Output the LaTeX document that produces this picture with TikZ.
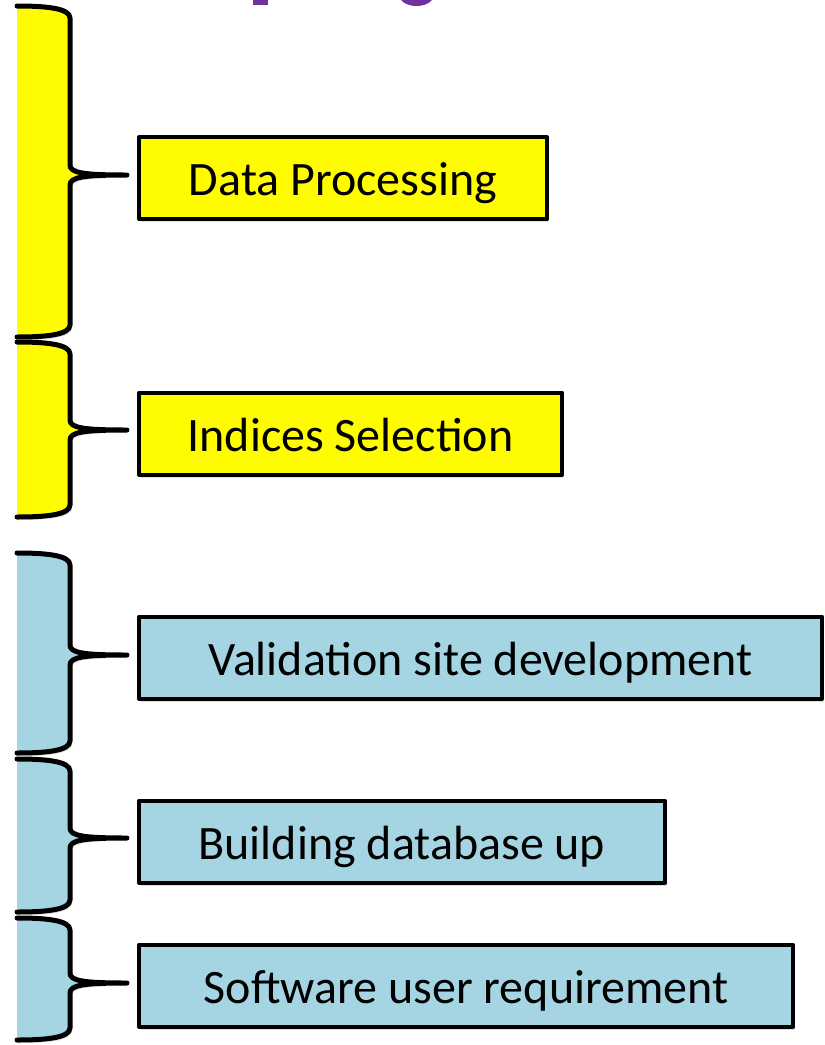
\documentclass[tikz,border=0pt]{standalone}
\usepackage{fontspec}
\setmainfont{Carlito}
\usepackage{tikz}
\usetikzlibrary{shadows}
\usepackage{xcolor}
\definecolor{taskyellow}{HTML}{FFFB00}
\definecolor{taskblue}{HTML}{A5D5E2}
\definecolor{titlepurple}{HTML}{7030A0}

% group brace: #1 top, #2 tip, #3 bottom, #4 fill
\newcommand{\grpbrace}[4]{%
\fill[#4,shade drop] (17,#1) .. controls (45,#1) and (70,#1+2) .. (70,#1+12) -- (70,#2-10)
  .. controls (70,#2-2) and (84,#2) .. (127,#2) .. controls (84,#2) and (70,#2+2) .. (70,#2+10)
  -- (70,#3-12) .. controls (70,#3-2) and (45,#3) .. (17,#3) -- cycle;
\draw[braceline] (17,#1) .. controls (45,#1) and (70,#1+2) .. (70,#1+12) -- (70,#2-10)
  .. controls (70,#2-2) and (84,#2) .. (127,#2) .. controls (84,#2) and (70,#2+2) .. (70,#2+10)
  -- (70,#3-12) .. controls (70,#3-2) and (45,#3) .. (17,#3);
}

\begin{document}
\begin{tikzpicture}[x=1pt,y=-1pt,line cap=round,line join=round,
  shade drop/.style={drop shadow={shadow xshift=2pt,shadow yshift=-3pt,opacity=0.25}},
  braceline/.style={draw=black,line width=5pt},
  taskbox/.style={draw=black,fill=#1,line width=4pt,anchor=west,minimum height=82pt,
    inner sep=0pt,text height=35pt,text depth=0pt,shade drop,font=\fontsize{48}{56}\selectfont}]
\useasboundingbox (0,0) rectangle (825,1045);
\fill[white] (0,0) rectangle (825,1045);
% bits of the title, cut off at the top
\begin{scope}
\clip (0,0) rectangle (825,20);
\fill[titlepurple] (253,-5) rectangle (268,5);
\draw[titlepurple,line width=7pt] (416.5,-7) ellipse [x radius=15pt,y radius=9.5pt];
\end{scope}
% braces
\grpbrace{6}{175}{337}{taskyellow}
\grpbrace{342}{430}{517}{taskyellow}
\grpbrace{553}{655}{753}{taskblue}
\grpbrace{759}{838}{912}{taskblue}
\grpbrace{918}{983}{1040}{taskblue}
% tasks
\node[taskbox=taskyellow,minimum width=408pt] (dataproc) at (137,178) {Data Processing};
\node[taskbox=taskyellow,minimum width=423pt] (indsel) at (137,433.5) {Indices Selection};
\node[taskbox=taskblue,minimum width=683pt] (valsite) at (137,657.5) {Validation site development};
\node[taskbox=taskblue,minimum width=526pt] (dbase) at (137,841.5) {Building database up};
\node[taskbox=taskblue,minimum width=654pt] (softreq) at (137,985.5) {Software user requirement};
\end{tikzpicture}
\end{document}
